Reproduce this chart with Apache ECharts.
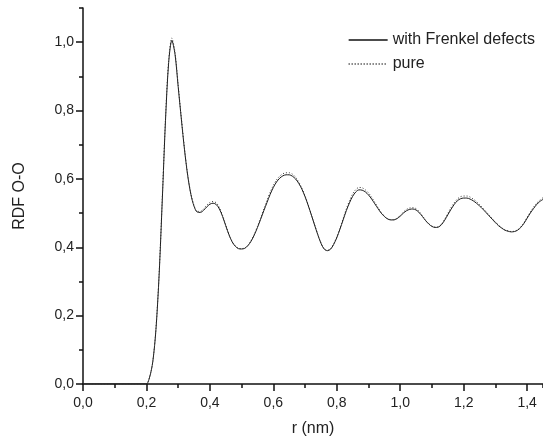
<!DOCTYPE html>
<html>
<head>
<meta charset="utf-8">
<script src="https://cdn.jsdelivr.net/npm/echarts@6/dist/echarts.min.js"></script>
<style>
  html, body { margin: 0; padding: 0; background: #fff; }
  #rdf { width: 543px; height: 441px; }
</style>
</head>
<body>
<div id="rdf"></div>
<script>
// r (nm) sample points
const r = [0, 0.05, 0.1, 0.15, 0.19,
  0.20, 0.21, 0.22, 0.23, 0.24, 0.25, 0.26, 0.27, 0.28, 0.29,
  0.30, 0.31, 0.32, 0.33, 0.34, 0.35, 0.36, 0.37, 0.38, 0.39,
  0.40, 0.41, 0.42, 0.43, 0.44, 0.45, 0.46, 0.47, 0.48, 0.49,
  0.50, 0.51, 0.52, 0.53, 0.54, 0.55, 0.56, 0.57, 0.58, 0.59,
  0.60, 0.61, 0.62, 0.63, 0.64, 0.65, 0.66, 0.67, 0.68, 0.69,
  0.70, 0.71, 0.72, 0.73, 0.74, 0.75, 0.76, 0.77, 0.78, 0.79,
  0.80, 0.81, 0.82, 0.83, 0.84, 0.85, 0.86, 0.87, 0.88, 0.89,
  0.90, 0.91, 0.92, 0.93, 0.94, 0.95, 0.96, 0.97, 0.98, 0.99,
  1.00, 1.01, 1.02, 1.03, 1.04, 1.05, 1.06, 1.07, 1.08, 1.09,
  1.10, 1.11, 1.12, 1.13, 1.14, 1.15, 1.16, 1.17, 1.18, 1.19,
  1.20, 1.21, 1.22, 1.23, 1.24, 1.25, 1.26, 1.27, 1.28, 1.29,
  1.30, 1.31, 1.32, 1.33, 1.34, 1.35, 1.36, 1.37, 1.38, 1.39,
  1.40, 1.41, 1.42, 1.43, 1.44, 1.45];

// with Frenkel defects
const frenkel = [0, 0, 0, 0, 0,
  0, 0.02, 0.065, 0.16, 0.32, 0.54, 0.77, 0.94, 1.005, 0.965,
  0.87, 0.775, 0.685, 0.61, 0.555, 0.52, 0.503, 0.502, 0.508, 0.518,
  0.526, 0.529, 0.525, 0.512, 0.49, 0.463, 0.437, 0.416, 0.403, 0.396,
  0.395, 0.397, 0.405, 0.418, 0.436, 0.458, 0.482, 0.507, 0.531, 0.555,
  0.575, 0.591, 0.602, 0.609, 0.612, 0.612, 0.608, 0.6, 0.587, 0.57,
  0.548, 0.522, 0.494, 0.465, 0.437, 0.412, 0.395, 0.39, 0.394, 0.408,
  0.428, 0.453, 0.48, 0.507, 0.53, 0.549, 0.562, 0.568, 0.567, 0.562,
  0.553, 0.541, 0.527, 0.513, 0.5, 0.49, 0.483, 0.48, 0.48, 0.484,
  0.491, 0.5, 0.507, 0.511, 0.512, 0.509, 0.501, 0.49, 0.478, 0.468,
  0.461, 0.458, 0.459, 0.466, 0.479, 0.495, 0.511, 0.525, 0.536, 0.542,
  0.544, 0.544, 0.541, 0.536, 0.529, 0.521, 0.512, 0.502, 0.492, 0.482,
  0.472, 0.463, 0.456, 0.45, 0.447, 0.445, 0.446, 0.45, 0.458, 0.47,
  0.485, 0.5, 0.513, 0.525, 0.534, 0.54];

// pure
const pure = [0, 0, 0, 0, 0,
  0, 0.02, 0.066, 0.162, 0.323, 0.545, 0.776, 0.946, 1.012, 0.97,
  0.874, 0.778, 0.688, 0.612, 0.557, 0.522, 0.505, 0.505, 0.512, 0.523,
  0.531, 0.534, 0.53, 0.516, 0.493, 0.465, 0.438, 0.417, 0.404, 0.397,
  0.396, 0.398, 0.406, 0.42, 0.438, 0.461, 0.486, 0.512, 0.537, 0.561,
  0.581, 0.597, 0.608, 0.615, 0.618, 0.618, 0.614, 0.605, 0.591, 0.573,
  0.55, 0.524, 0.495, 0.466, 0.438, 0.413, 0.396, 0.391, 0.395, 0.41,
  0.43, 0.456, 0.484, 0.512, 0.536, 0.556, 0.569, 0.575, 0.574, 0.568,
  0.559, 0.546, 0.531, 0.516, 0.502, 0.491, 0.484, 0.481, 0.481, 0.485,
  0.493, 0.503, 0.511, 0.515, 0.516, 0.513, 0.504, 0.492, 0.479, 0.469,
  0.462, 0.459, 0.46, 0.468, 0.482, 0.499, 0.516, 0.53, 0.541, 0.548,
  0.55, 0.55, 0.547, 0.541, 0.534, 0.525, 0.515, 0.505, 0.494, 0.484,
  0.474, 0.465, 0.457, 0.451, 0.448, 0.446, 0.447, 0.451, 0.46, 0.472,
  0.488, 0.503, 0.517, 0.529, 0.538, 0.545];

const xTicks = [0, 0.2, 0.4, 0.6, 0.8, 1.0, 1.2, 1.4];
const yTicks = [0, 0.2, 0.4, 0.6, 0.8, 1.0];

const zip = (xs, ys) => xs.map((x, i) => [x, ys[i]]);
const comma = v => v.toFixed(1).replace('.', ',');

const ink = '#111';
const font = 'Liberation Sans, Arial, sans-serif';

const chart = echarts.init(document.getElementById('rdf'));

chart.setOption({
  animation: false,
  grid: { left: 83, right: 0, top: 8, bottom: 57, outerBoundsMode: 'none' },
  legend: {
    orient: 'vertical',
    left: 343,
    top: 27,
    itemWidth: 39,
    itemHeight: 16,
    itemGap: 8,
    data: ['with Frenkel defects', 'pure'],
    itemStyle: { opacity: 0 },
    lineStyle: { width: 1.3, color: '#111' },
    textStyle: { fontFamily: font, fontSize: 16, color: '#222' }
  },
  xAxis: [
    {
      type: 'value', min: 0, max: 1.45, interval: 0.1,
      name: 'r (nm)', nameLocation: 'middle', nameGap: 37,
      nameTextStyle: { fontFamily: font, fontSize: 16, color: '#222' },
      axisLine: { onZero: false, lineStyle: { color: ink, width: 1.5 } },
      axisTick: { length: 4, lineStyle: { color: ink, width: 1.5 } },
      axisLabel: { show: false },
      splitLine: { show: false }
    },
    {
      type: 'value', position: 'bottom', min: 0, max: 1.45,
      axisLine: { show: false },
      axisTick: { customValues: xTicks, length: 7, lineStyle: { color: ink, width: 1.5 } },
      axisLabel: {
        customValues: xTicks, formatter: comma, margin: 12,
        fontFamily: font, fontSize: 14, color: '#222'
      },
      splitLine: { show: false }
    }
  ],
  yAxis: [
    {
      type: 'value', min: 0, max: 1.1, interval: 0.1,
      name: 'RDF O-O', nameLocation: 'middle', nameGap: 55,
      nameTextStyle: { fontFamily: font, fontSize: 16, color: '#222' },
      axisLine: { show: true, onZero: false, lineStyle: { color: ink, width: 1.5 } },
      axisTick: { show: true, length: 4, lineStyle: { color: ink, width: 1.5 } },
      axisLabel: { show: false },
      splitLine: { show: false }
    },
    {
      type: 'value', position: 'left', min: 0, max: 1.1,
      axisLine: { show: false },
      axisTick: { show: true, customValues: yTicks, length: 7, lineStyle: { color: ink, width: 1.5 } },
      axisLabel: {
        customValues: yTicks, formatter: comma, margin: 9,
        fontFamily: font, fontSize: 14, color: '#222'
      },
      splitLine: { show: false }
    }
  ],
  series: [
    {
      name: 'with Frenkel defects',
      type: 'line',
      data: zip(r, frenkel),
      symbol: 'none',
      smooth: 0.3,
      lineStyle: { color: '#1a1a1a', width: 1, type: 'solid' },
      itemStyle: { color: '#1a1a1a' }
    },
    {
      name: 'pure',
      type: 'line',
      data: zip(r, pure),
      symbol: 'none',
      smooth: 0.3,
      lineStyle: { color: '#333', width: 1, type: [1, 2] },
      itemStyle: { color: '#333' }
    }
  ]
});
</script>
</body>
</html>
